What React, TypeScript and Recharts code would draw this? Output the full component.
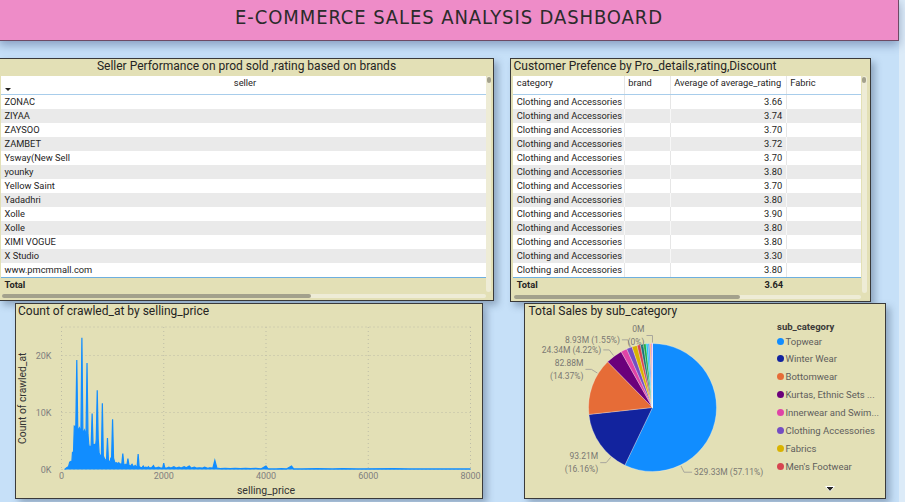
import React from "react";
import {
  ComposedChart,
  Area,
  XAxis,
  YAxis,
  CartesianGrid,
  PieChart,
  Pie,
  Cell,
  Legend,
} from "recharts";

// ---- table data ----
const sellers = [
  "ZONAC",
  "ZIYAA",
  "ZAYSOO",
  "ZAMBET",
  "Ysway(New Sell",
  "younky",
  "Yellow Saint",
  "Yadadhri",
  "Xolle",
  "Xolle",
  "XIMI VOGUE",
  "X Studio",
  "www.pmcmmall.com",
];

const prefCategories = [
  "Clothing and Accessories",
  "Clothing and Accessories",
  "Clothing and Accessories",
  "Clothing and Accessories",
  "Clothing and Accessories",
  "Clothing and Accessories",
  "Clothing and Accessories",
  "Clothing and Accessories",
  "Clothing and Accessories",
  "Clothing and Accessories",
  "Clothing and Accessories",
  "Clothing and Accessories",
  "Clothing and Accessories",
];
const avgRatings = [3.66, 3.74, 3.7, 3.72, 3.7, 3.8, 3.7, 3.8, 3.9, 3.8, 3.8, 3.3, 3.8];
const avgRatingTotal = 3.64;

// ---- histogram data ----
const sellingPrice = [
  60, 80, 100, 120, 140, 160, 180, 200, 215, 235, 250, 265, 280, 299, 318, 335, 350, 365, 380,
  399, 418, 435, 450, 465, 480, 499, 518, 535, 550, 565, 580, 599, 618, 635, 650, 665, 680, 699,
  718, 735, 750, 765, 780, 799, 818, 835, 850, 865, 880, 899, 918, 935, 950, 965, 980, 999, 1018,
  1040, 1060, 1080, 1100, 1120, 1140, 1160, 1180, 1199, 1218, 1240, 1260, 1280, 1299, 1318, 1340,
  1360, 1380, 1400, 1420, 1440, 1460, 1480, 1499, 1518, 1540, 1560, 1580, 1599, 1620, 1650, 1680,
  1699, 1720, 1760, 1799, 1820, 1860, 1899, 1940, 1980, 1999, 2020, 2060, 2099, 2140, 2199, 2240,
  2299, 2340, 2399, 2440, 2499, 2540, 2599, 2640, 2699, 2760, 2799, 2860, 2899, 2960, 2999, 3040,
  3100, 3199, 3300, 3399, 3500, 3599, 3700, 3799, 3900, 3999, 4040, 4200, 4300, 4400, 4499, 4540,
  4700, 4999, 5300, 5500, 5800, 6000, 6500, 6800, 7200, 7600, 8000,
];
const crawledCount = [
  0, 150, 300, 400, 600, 1300, 1400, 1100, 3000, 3000, 7600, 7500, 7700, 19200, 7100, 7000, 7300,
  6900, 6700, 23100, 6800, 6600, 6900, 6300, 6100, 18700, 6200, 4300, 3900, 4000, 4200, 9800, 4400,
  4300, 4400, 4000, 5300, 13900, 5400, 3000, 2400, 2500, 2300, 11600, 2400, 2000, 1800, 1600, 1500,
  5500, 1600, 1400, 1300, 2000, 2100, 8800, 2000, 1300, 1100, 1200, 1000, 1200, 1000, 900, 1000,
  2800, 1000, 700, 900, 800, 1900, 800, 600, 700, 900, 600, 500, 700, 500, 500, 2700, 500, 400, 300,
  400, 600, 300, 400, 300, 500, 300, 300, 700, 300, 300, 400, 250, 300, 1100, 300, 250, 400, 250,
  500, 250, 400, 250, 500, 300, 600, 250, 400, 250, 300, 250, 400, 200, 300, 250, 1600, 250, 150,
  200, 150, 200, 150, 200, 150, 200, 100, 600, 100, 100, 150, 100, 600, 100, 100, 150, 100, 150,
  100, 120, 150, 100, 100, 100, 100,
];
const priceTicks = [0, 2000, 4000, 6000, 8000];
const countTicks = [0, 10000, 20000];

// ---- pie data (millions) ----
const subCategories = [
  "Topwear",
  "Winter Wear",
  "Bottomwear",
  "Kurtas, Ethnic Sets and Bottoms",
  "Innerwear and Swimwear",
  "Clothing Accessories",
  "Fabrics",
  "Men's Footwear",
  "Sleepwear",
  "Blazers, Waistcoats and Suits",
  "Tracksuits",
  "Women's Footwear",
  "Raincoat",
  "Kids' Clothing",
  "Lingerie",
  "Saree",
];
const totalSales = [
  329.33, 93.21, 82.88, 24.34, 8.93, 8.07, 7.61, 4.9, 4.32, 3.75, 2.88, 2.4, 1.85, 1.35, 0.85, 0.001,
];
const sliceColors = [
  "#118DFF",
  "#12239E",
  "#E66C37",
  "#6B007B",
  "#E044A7",
  "#744EC2",
  "#D9B300",
  "#D64550",
  "#197278",
  "#1AAB40",
  "#15C6F4",
  "#4092FF",
  "#FFA058",
  "#BE5DC9",
  "#F472D0",
  "#B5A1FF",
];

const FONT = "Roboto, 'Noto Sans', sans-serif";
const TEXT = "#252423";
const PAGE_BG = "#C6E0F8";
const PANEL_BG = "#E3E0B6";
const BORDER = 1.5;

const histData = sellingPrice.map((price, i) => ({ price, count: crawledCount[i] }));
const salesData = subCategories.map((name, i) => ({ name, value: totalSales[i] }));

function Panel({ left, top, width, height, children }: any) {
  return (
    <div
      style={{
        position: "absolute",
        left,
        top,
        width,
        height,
        boxSizing: "border-box",
        background: PANEL_BG,
        border: `${BORDER}px solid #3a3a3a`,
        boxShadow: "4px 4px 7px rgba(40,60,90,0.35)",
      }}
    >
      {children}
    </div>
  );
}

const titleStyle: React.CSSProperties = {
  position: "absolute",
  top: 0,
  height: 14,
  lineHeight: "14px",
  fontSize: 12,
  color: TEXT,
  whiteSpace: "nowrap",
};

function ScrollBars({ left, top, width, height, thumbW }: any) {
  // vertical bar at the right of the table, horizontal bar below it
  return (
    <>
      <div
        style={{
          position: "absolute",
          left: left + width + 0.5,
          top,
          width: 5,
          height,
          background: "#EEECD6",
          borderRadius: 3,
        }}
      />
      <div
        style={{
          position: "absolute",
          left: left + width + 1,
          top: top + 1,
          width: 4,
          height: 6,
          background: "#A3A18C",
          borderRadius: 2,
        }}
      />
      <div
        style={{
          position: "absolute",
          left: left + 1,
          top: top + height + 2,
          width: width - 1,
          height: 4.5,
          background: "#EEECD6",
          borderRadius: 3,
        }}
      />
      <div
        style={{
          position: "absolute",
          left: left + 1,
          top: top + height + 2,
          width: thumbW,
          height: 4.5,
          background: "#A3A18C",
          borderRadius: 3,
        }}
      />
    </>
  );
}

type Col = { label: string; width: number; align: "left" | "right"; headerAlign?: "left" | "center" };

function DataTable({ left, top, cols, rows, total, separators, sortArrow }: any) {
  const rowH = 14;
  const width = cols.reduce((s: number, c: Col) => s + c.width, 0);
  const cellStyle = (c: Col, sep: string, last: boolean): React.CSSProperties => ({
    width: c.width,
    boxSizing: "border-box",
    paddingLeft: c.align === "left" ? 4 : 3,
    paddingRight: c.align === "right" ? 4 : 0,
    textAlign: c.align,
    overflow: "hidden",
    whiteSpace: "nowrap",
    borderRight: separators && !last ? `1px solid ${sep}` : "none",
  });
  return (
    <div style={{ position: "absolute", left, top, width, fontSize: 9.3, color: TEXT }}>
      <div
        style={{
          display: "flex",
          height: 19,
          boxSizing: "border-box",
          background: "#fff",
          borderBottom: "1px solid #A8CDEB",
          position: "relative",
        }}
      >
        {cols.map((c: Col, j: number) => (
          <div
            key={c.label}
            style={{
              ...cellStyle(c, "#E6E6E6", j === cols.length - 1),
              textAlign: c.headerAlign === "center" ? "center" : "left",
              paddingLeft: j === 0 ? 4 : 3,
              paddingRight: 0,
              lineHeight: "14px",
            }}
          >
            {c.label}
          </div>
        ))}
        {sortArrow && (
          <div
            style={{
              position: "absolute",
              left: 4,
              top: 12,
              width: 0,
              height: 0,
              borderLeft: "3px solid transparent",
              borderRight: "3px solid transparent",
              borderTop: "3px solid #252423",
            }}
          />
        )}
      </div>
      {rows.map((r: string[], i: number) => (
        <div
          key={i}
          style={{
            display: "flex",
            height: rowH,
            lineHeight: `${rowH}px`,
            background: i % 2 === 0 ? "#FFFFFF" : "#EAEAEA",
          }}
        >
          {cols.map((c: Col, j: number) => (
            <div key={j} style={cellStyle(c, i % 2 === 0 ? "#E6E6E6" : "#F7F7F7", j === cols.length - 1)}>
              {r[j]}
            </div>
          ))}
        </div>
      ))}
      <div
        style={{
          display: "flex",
          height: rowH + 1,
          lineHeight: `${rowH}px`,
          boxSizing: "border-box",
          borderTop: "1px solid #6EAFDF",
          fontWeight: 700,
        }}
      >
        {cols.map((c: Col, j: number) => (
          <div key={j} style={{ ...cellStyle(c, "transparent", true) }}>
            {total[j]}
          </div>
        ))}
      </div>
    </div>
  );
}

function SellerPanel() {
  const cols: Col[] = [{ label: "seller", width: 485, align: "left", headerAlign: "center" }];
  return (
    <Panel left={-1} top={58} width={495} height={243}>
      <div style={{ ...titleStyle, left: 0, width: "100%", textAlign: "center" }}>
        Seller Performance on prod sold ,rating based on brands
      </div>
      <DataTable
        left={0.5}
        top={16.5}
        cols={cols}
        rows={sellers.map((s) => [s])}
        total={["Total"]}
        sortArrow
      />
      <ScrollBars left={0.5} top={16.5} width={485} height={216} thumbW={309} />
    </Panel>
  );
}

function PreferencePanel() {
  const cols: Col[] = [
    { label: "category", width: 112.4, align: "left" },
    { label: "brand", width: 46, align: "left" },
    { label: "Average of average_rating", width: 116, align: "right" },
    { label: "Fabric", width: 74, align: "left" },
  ];
  const rows = prefCategories.map((c, i) => [c, "", avgRatings[i].toFixed(2), ""]);
  return (
    <Panel left={510} top={58} width={361} height={244}>
      <div style={{ ...titleStyle, left: 2.5 }}>Customer Prefence by Pro_details,rating,Discount</div>
      <DataTable
        left={1.8}
        top={16.5}
        cols={cols}
        rows={rows}
        total={["Total", "", avgRatingTotal.toFixed(2), ""]}
        separators
      />
      <ScrollBars left={1.8} top={16.5} width={348.4} height={217} thumbW={226} />
    </Panel>
  );
}

function PricePanel() {
  const tick = { fill: "#7F7F7F", fontSize: 9, fontFamily: FONT };
  return (
    <Panel left={15} top={303} width={468} height={196}>
      <div style={{ ...titleStyle, left: 2 }}>Count of crawled_at by selling_price</div>
      <div style={{ position: "absolute", left: 0, top: 0 }}>
        <ComposedChart
          width={465}
          height={193}
          data={histData}
          margin={{ top: 23, right: 10.5, bottom: 0, left: 0 }}
        >
          <CartesianGrid stroke="#BDBCA6" strokeDasharray="1 3" />
          <XAxis
            dataKey="price"
            type="number"
            domain={[0, 8000]}
            ticks={priceTicks}
            axisLine={false}
            tickLine={false}
            tickSize={0}
            tickMargin={3}
            height={27.5}
            tick={tick}
            label={{
              value: "selling_price",
              position: "insideBottom",
              offset: 3.5,
              fill: "#333333",
              fontSize: 10.5,
              fontFamily: FONT,
            }}
          />
          <YAxis
            type="number"
            domain={[0, 25000]}
            ticks={countTicks}
            tickFormatter={(v: number) => `${v / 1000}K`}
            axisLine={false}
            tickLine={false}
            tickSize={0}
            tickMargin={10}
            width={45.5}
            tick={tick}
            label={{
              value: "Count of crawled_at",
              angle: -90,
              position: "insideLeft",
              offset: 6.5,
              style: { textAnchor: "middle" },
              fill: "#333333",
              fontSize: 10.3,
              fontFamily: FONT,
            }}
          />
          <Area
            type="linear"
            dataKey="count"
            stroke="#118DFF"
            strokeWidth={1.2}
            fill="#118DFF"
            fillOpacity={1}
            dot={false}
            activeDot={false}
            isAnimationActive={false}
          />
        </ComposedChart>
      </div>
    </Panel>
  );
}

// label placement: Power BI pushes some labels away from the legend / each other
const LABEL_LAYOUT: Record<number, { angle?: number; ext: number; wrap: boolean }> = {
  0: { angle: -64, ext: 8, wrap: false },
  1: { angle: -130, ext: 8, wrap: true },
  2: { angle: 148, ext: 8, wrap: true },
  3: { ext: 8, wrap: false },
  4: { angle: 110, ext: 8, wrap: false },
  [subCategories.length - 1]: { ext: 8, wrap: true },
};

const trimZeros = (s: string) => s.replace(/\.00$/, "");
const fmtM = (v: number) => `${trimZeros(v.toFixed(2))}M`;
const fmtPct = (p: number) => `(${trimZeros((p * 100).toFixed(2))}%)`;

function renderSliceLabel(props: any) {
  const { cx, cy, midAngle, outerRadius, index, value, percent } = props;
  const layout = LABEL_LAYOUT[index];
  if (!layout) return <g />;
  const a = ((layout.angle ?? midAngle) * Math.PI) / 180;
  const pt = (r: number) => ({ x: cx + r * Math.cos(a), y: cy - r * Math.sin(a) });
  const p1 = pt(outerRadius + 1);
  const p2 = pt(outerRadius + layout.ext);
  const left = Math.cos(a) < 0;
  const hx = p2.x + (left ? -6 : 8);
  const tx = hx + (left ? -2 : 2);
  const anchor = left ? "end" : "start";
  const textProps = {
    x: tx,
    textAnchor: anchor as any,
    fill: "#7A7873",
    fontSize: 8.5,
    fontFamily: FONT,
    dominantBaseline: "central" as any,
  };
  return (
    <g>
      <polyline
        points={`${p1.x},${p1.y} ${p2.x},${p2.y} ${hx},${p2.y}`}
        fill="none"
        stroke="#A8A69C"
        strokeWidth={1}
      />
      {layout.wrap ? (
        <>
          <text {...textProps} y={p2.y - 6.5}>
            {fmtM(value)}
          </text>
          <text {...textProps} y={p2.y + 6.5}>
            {fmtPct(percent)}
          </text>
        </>
      ) : (
        <text {...textProps} y={p2.y}>
          {`${fmtM(value)} ${fmtPct(percent)}`}
        </text>
      )}
    </g>
  );
}

let measureCtx: CanvasRenderingContext2D | null = null;
function fitText(text: string, font: string, max: number) {
  if (!measureCtx) measureCtx = document.createElement("canvas").getContext("2d");
  if (!measureCtx) return text;
  measureCtx.font = font;
  if (measureCtx.measureText(text).width <= max) return text;
  let s = text;
  while (s.length > 1 && measureCtx.measureText(s + "...").width > max) s = s.slice(0, -1);
  return s + "...";
}

function SalesLegend() {
  const shown = subCategories.slice(0, 8);
  return (
    <div style={{ fontFamily: FONT, width: 110 }}>
      <div style={{ height: 12, lineHeight: "14px", fontSize: 9.5, fontWeight: 700, color: "#3B3A39" }}>
        sub_category
      </div>
      {shown.map((name, i) => (
        <div key={name} style={{ display: "flex", alignItems: "center", height: 17.85 }}>
          <span
            style={{
              width: 7,
              height: 7,
              borderRadius: "50%",
              background: sliceColors[i],
              marginRight: 1.5,
              flex: "none",
            }}
          />
          <span style={{ fontSize: 9.5, color: "#605E5C", whiteSpace: "nowrap" }}>
            {fitText(name, `9.5px Roboto`, 94)}
          </span>
        </div>
      ))}
    </div>
  );
}

function SalesPanel() {
  return (
    <Panel left={524} top={303} width={362} height={196}>
      <div style={{ ...titleStyle, left: 3.5 }}>Total Sales by sub_category</div>
      <div style={{ position: "absolute", left: 0, top: 0 }}>
        <PieChart width={359} height={193} margin={{ top: 0, right: 0, bottom: 0, left: 0 }}>
          <Pie
            data={salesData}
            dataKey="value"
            nameKey="name"
            cx={127.5}
            cy={103.5}
            outerRadius={64}
            startAngle={90}
            endAngle={-270}
            stroke="rgba(255,255,255,0.55)"
            strokeWidth={0.5}
            label={renderSliceLabel}
            labelLine={false}
            isAnimationActive={false}
          >
            {salesData.map((d, i) => (
              <Cell key={d.name} fill={sliceColors[i]} />
            ))}
          </Pie>
          <Legend
            layout="vertical"
            align="right"
            verticalAlign="top"
            content={() => <SalesLegend />}
            wrapperStyle={{ left: 252, top: 16.2, right: "auto", width: 110 }}
          />
        </PieChart>
      </div>
      <svg style={{ position: "absolute", left: 299, top: 181 }} width={12} height={8}>
        <polygon points="1.5,1.5 10.5,1.5 6,6.5" fill="#252423" stroke="#FFFFFF" strokeWidth={1} />
      </svg>
    </Panel>
  );
}

function Banner() {
  return (
    <div
      style={{
        position: "absolute",
        left: -1,
        top: -1,
        width: 900,
        height: 42,
        boxSizing: "border-box",
        background: "#EE8CC8",
        border: "1px solid #6E4A64",
        boxShadow: "0 4px 9px rgba(40,60,110,0.4)",
        textAlign: "center",
        lineHeight: "34px",
        fontSize: 20,
        letterSpacing: 0.9,
        color: "#2B2B2B",
        fontFamily: "'Comic Sans MS', 'DejaVu Sans Condensed', sans-serif",
      }}
    >
      E-COMMERCE SALES ANALYSIS DASHBOARD
    </div>
  );
}

export default function App() {
  return (
    <div
      style={{
        position: "fixed",
        left: 0,
        top: 0,
        width: 905,
        height: 502,
        overflow: "hidden",
        background: PAGE_BG,
        fontFamily: FONT,
      }}
    >
      <div style={{ position: "absolute", left: 899, top: 0, width: 6, height: 502, background: "#DCEBF8" }} />
      <Banner />
      <SellerPanel />
      <PreferencePanel />
      <PricePanel />
      <SalesPanel />
    </div>
  );
}
